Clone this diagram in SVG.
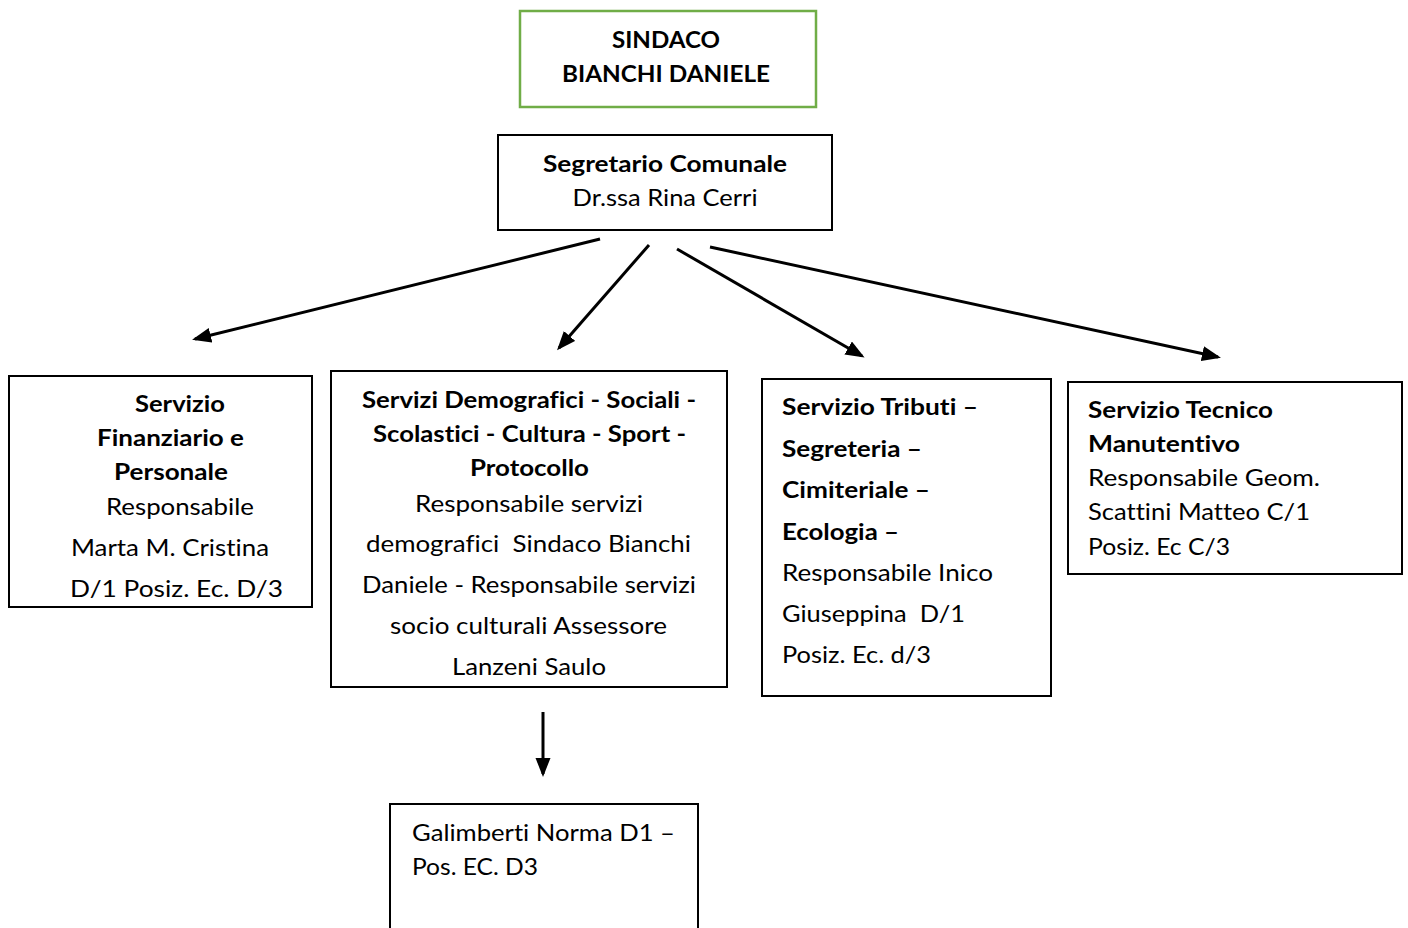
<svg xmlns="http://www.w3.org/2000/svg" width="1408" height="928" viewBox="0 0 1408 928">
<style>
.box{fill:#fff;stroke:#000;stroke-width:2}
.green{fill:#fff;stroke:#70AD47;stroke-width:2.5}
text{font-family:Lato,"Liberation Sans",Arial,sans-serif;font-size:23px;fill:#000;font-variant-ligatures:none;font-feature-settings:"liga" 0,"dlig" 0}
.b{font-weight:bold}
.c{text-anchor:middle}
.con{stroke:#000;stroke-width:3;fill:none;marker-end:url(#ah)}
</style>
<defs>
<marker id="ah" markerUnits="userSpaceOnUse" markerWidth="20" markerHeight="16" refX="16" refY="7.5" orient="auto">
<path d="M0,0 L19,7.5 L0,15 Z" fill="#000"/>
</marker>
</defs>
<g id="connectors">
<line class="con" x1="600" y1="239" x2="195" y2="339"/>
<line class="con" x1="649" y1="245" x2="559" y2="348"/>
<line class="con" x1="677" y1="249" x2="862" y2="356"/>
<line class="con" x1="710" y1="247" x2="1218" y2="357"/>
<line class="con" x1="543" y1="712" x2="543" y2="774"/>
</g>
<g id="sindaco">
<rect class="green" x="520" y="11" width="296" height="96"/>
<text class="b c" x="666" y="48" textLength="108" lengthAdjust="spacingAndGlyphs">SINDACO</text>
<text class="b c" x="666" y="82" textLength="208" lengthAdjust="spacingAndGlyphs">BIANCHI DANIELE</text>
</g>
<g id="segretario">
<rect class="box" x="498" y="135" width="334" height="95"/>
<text class="b c" x="665" y="172" textLength="244" lengthAdjust="spacingAndGlyphs">Segretario Comunale</text>
<text class="c" x="665" y="206" textLength="185" lengthAdjust="spacingAndGlyphs">Dr.ssa Rina Cerri</text>
</g>
<g id="finanziario">
<rect class="box" x="9" y="376" width="303" height="231"/>
<text class="b" x="135" y="412" textLength="90" lengthAdjust="spacingAndGlyphs">Servizio</text>
<text class="b" x="97" y="446" textLength="147" lengthAdjust="spacingAndGlyphs">Finanziario e</text>
<text class="b" x="114" y="480" textLength="114" lengthAdjust="spacingAndGlyphs">Personale</text>
<text x="106" y="515" textLength="148" lengthAdjust="spacingAndGlyphs">Responsabile</text>
<text x="71" y="556" textLength="198" lengthAdjust="spacingAndGlyphs">Marta M. Cristina</text>
<text x="70" y="597" textLength="213" lengthAdjust="spacingAndGlyphs">D/1 Posiz. Ec. D/3</text>
</g>
<g id="demografici">
<rect class="box" x="331" y="371" width="396" height="316"/>
<text class="b" x="362" y="408" textLength="334" lengthAdjust="spacingAndGlyphs">Servizi Demografici - Sociali -</text>
<text class="b" x="373" y="442" textLength="313" lengthAdjust="spacingAndGlyphs">Scolastici - Cultura - Sport -</text>
<text class="b" x="470" y="476" textLength="119" lengthAdjust="spacingAndGlyphs">Protocollo</text>
<text x="415" y="512" textLength="228" lengthAdjust="spacingAndGlyphs">Responsabile servizi</text>
<text x="366" y="552" textLength="325" lengthAdjust="spacingAndGlyphs" xml:space="preserve">demografici  Sindaco Bianchi</text>
<text x="362" y="593" textLength="334" lengthAdjust="spacingAndGlyphs">Daniele - Responsabile servizi</text>
<text x="390" y="634" textLength="277" lengthAdjust="spacingAndGlyphs">socio culturali Assessore</text>
<text x="452" y="675" textLength="154" lengthAdjust="spacingAndGlyphs">Lanzeni Saulo</text>
</g>
<g id="tributi">
<rect class="box" x="762" y="379" width="289" height="317"/>
<text class="b" x="782" y="415" textLength="196" lengthAdjust="spacingAndGlyphs">Servizio Tributi –</text>
<text class="b" x="782" y="457" textLength="140" lengthAdjust="spacingAndGlyphs">Segreteria –</text>
<text class="b" x="782" y="498" textLength="148" lengthAdjust="spacingAndGlyphs">Cimiteriale –</text>
<text class="b" x="782" y="540" textLength="117" lengthAdjust="spacingAndGlyphs">Ecologia –</text>
<text x="782" y="581" textLength="211" lengthAdjust="spacingAndGlyphs">Responsabile Inico</text>
<text x="782" y="622" textLength="183" lengthAdjust="spacingAndGlyphs" xml:space="preserve">Giuseppina  D/1</text>
<text x="782" y="663" textLength="149" lengthAdjust="spacingAndGlyphs">Posiz. Ec. d/3</text>
</g>
<g id="tecnico">
<rect class="box" x="1068" y="382" width="334" height="192"/>
<text class="b" x="1088" y="418" textLength="185" lengthAdjust="spacingAndGlyphs">Servizio Tecnico</text>
<text class="b" x="1088" y="452" textLength="152" lengthAdjust="spacingAndGlyphs">Manutentivo</text>
<text x="1088" y="486" textLength="232" lengthAdjust="spacingAndGlyphs">Responsabile Geom.</text>
<text x="1088" y="520" textLength="222" lengthAdjust="spacingAndGlyphs">Scattini Matteo C/1</text>
<text x="1088" y="555" textLength="142" lengthAdjust="spacingAndGlyphs">Posiz. Ec C/3</text>
</g>
<g id="galimberti">
<rect class="box" x="390" y="804" width="308" height="140"/>
<text x="412" y="841" textLength="263" lengthAdjust="spacingAndGlyphs">Galimberti Norma D1 –</text>
<text x="412" y="875" textLength="126" lengthAdjust="spacingAndGlyphs">Pos. EC. D3</text>
</g>
</svg>
